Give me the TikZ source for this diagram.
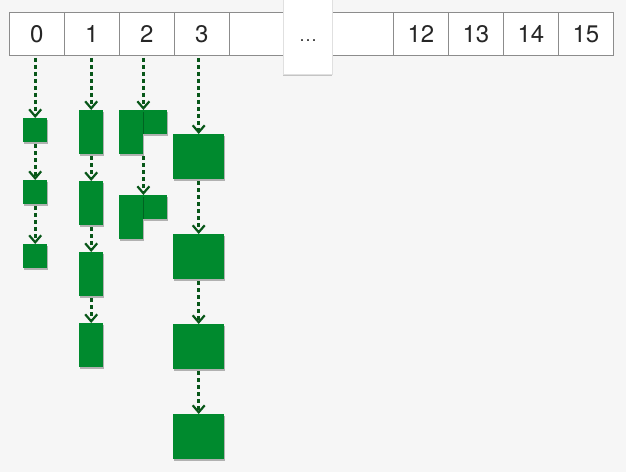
\documentclass[tikz,border=0pt]{standalone}
\usepackage{fontspec}
\setmainfont{TeX Gyre Heros}
\usetikzlibrary{arrows.meta,shadows}

\definecolor{canvas}{rgb}{0.965, 0.965, 0.965}
\definecolor{cellgray}{rgb}{0.55, 0.55, 0.55}
\definecolor{bucketgreen}{rgb}{0.0, 0.54, 0.18}
\definecolor{linkgreen}{rgb}{0.03, 0.34, 0.10}

\tikzset{
	cell/.style={draw=cellgray, fill=white, line width=0.8pt, anchor=north west, inner sep=0pt,
		minimum width=55pt, minimum height=43pt, font=\fontsize{24}{26}\selectfont, text=black!85},
	entry/.style={fill=bucketgreen, anchor=north west, inner sep=0pt,
		drop shadow={shadow xshift=0.6pt, shadow yshift=-1.6pt, opacity=0.28, fill=black}},
	link/.style={linkgreen, line width=2.6pt, dash pattern=on 4pt off 3pt, shorten <=2pt,
		-{Straight Barb[length=7pt,width=12pt,line width=2.2pt]}}
}

\begin{document}
\begin{tikzpicture}[x=1pt,y=1pt,yscale=-1,xscale=1]
		% Background of the whole diagram, 626 x 472
		\fill[canvas] (0,0) rectangle (626,472);
		\useasboundingbox (0,0) rectangle (626,472);

		% The bucket array, first slots
		\node[cell] (c0) at (9,12) {0};
		\node[cell] (c1) at (64,12) {1};
		\node[cell] (c2) at (119,12) {2};
		\node[cell] (c3) at (174,12) {3};
		\node[cell] (c4) at (229,12) {};

		% The bucket array, last slots
		\node[cell, minimum width=62pt] (c11) at (331,12) {};
		\node[cell] (c12) at (393,12) {12};
		\node[cell] (c13) at (448,12) {13};
		\node[cell] (c14) at (503,12) {14};
		\node[cell] (c15) at (558,12) {15};

		% The raised box with the dots over the skipped slots
		\node[draw=black!12, fill=white, anchor=north west, inner sep=0pt, minimum width=49pt, minimum height=84pt,
			drop shadow={shadow xshift=0pt, shadow yshift=-1.5pt, opacity=0.2, fill=black}] (gap) at (283,-10) {};
		\node[font=\fontsize{18}{20}\selectfont, text=black!75, inner sep=0pt] (dots) at (308,41) {\ldots};

		% Slot 0: three small entries
		\node[entry, minimum width=24pt, minimum height=24pt] (b0a) at (23,118) {};
		\node[entry, minimum width=24pt, minimum height=24pt] (b0b) at (23,180) {};
		\node[entry, minimum width=24pt, minimum height=24pt] (b0c) at (23,244) {};

		% Slot 1: four tall entries
		\node[entry, minimum width=24pt, minimum height=44pt] (b1a) at (79,110) {};
		\node[entry, minimum width=24pt, minimum height=44pt] (b1b) at (79,181) {};
		\node[entry, minimum width=24pt, minimum height=44pt] (b1c) at (79,252) {};
		\node[entry, minimum width=24pt, minimum height=44pt] (b1d) at (79,323) {};

		% Slot 2: two L-shaped entries (tall part and its side square)
		\node[entry, minimum width=24pt, minimum height=24pt] (b2ar) at (143,110) {};
		\node[entry, minimum width=24pt, minimum height=44pt] (b2a) at (119,110) {};
		\node[entry, minimum width=24pt, minimum height=24pt] (b2br) at (143,195) {};
		\node[entry, minimum width=24pt, minimum height=44pt] (b2b) at (119,195) {};

		% Slot 3: four big entries
		\node[entry, minimum width=51pt, minimum height=45pt] (b3a) at (173,134) {};
		\node[entry, minimum width=51pt, minimum height=45pt] (b3b) at (173,234) {};
		\node[entry, minimum width=51pt, minimum height=45pt] (b3c) at (173,324) {};
		\node[entry, minimum width=51pt, minimum height=45pt] (b3d) at (173,414) {};

		% Chains from the slots down to their entries
		\draw[link] (c0.south -| b0a.north) -- (b0a.north);
		\draw[link] (b0a.south) -- (b0b.north);
		\draw[link] (b0b.south) -- (b0c.north);

		\draw[link] (c1.south -| b1a.north) -- (b1a.north);
		\draw[link] (b1a.south) -- (b1b.north);
		\draw[link] (b1b.south) -- (b1c.north);
		\draw[link] (b1c.south) -- (b1d.north);

		\draw[link] (c2.south -| b2a.north east) -- (b2a.north east);
		\draw[link] (b2a.south east) -- (b2b.north east);

		\draw[link] (c3.south -| b3a.north) -- (b3a.north);
		\draw[link] (b3a.south) -- (b3b.north);
		\draw[link] (b3b.south) -- (b3c.north);
		\draw[link] (b3c.south) -- (b3d.north);
	\end{tikzpicture}
\end{document}
